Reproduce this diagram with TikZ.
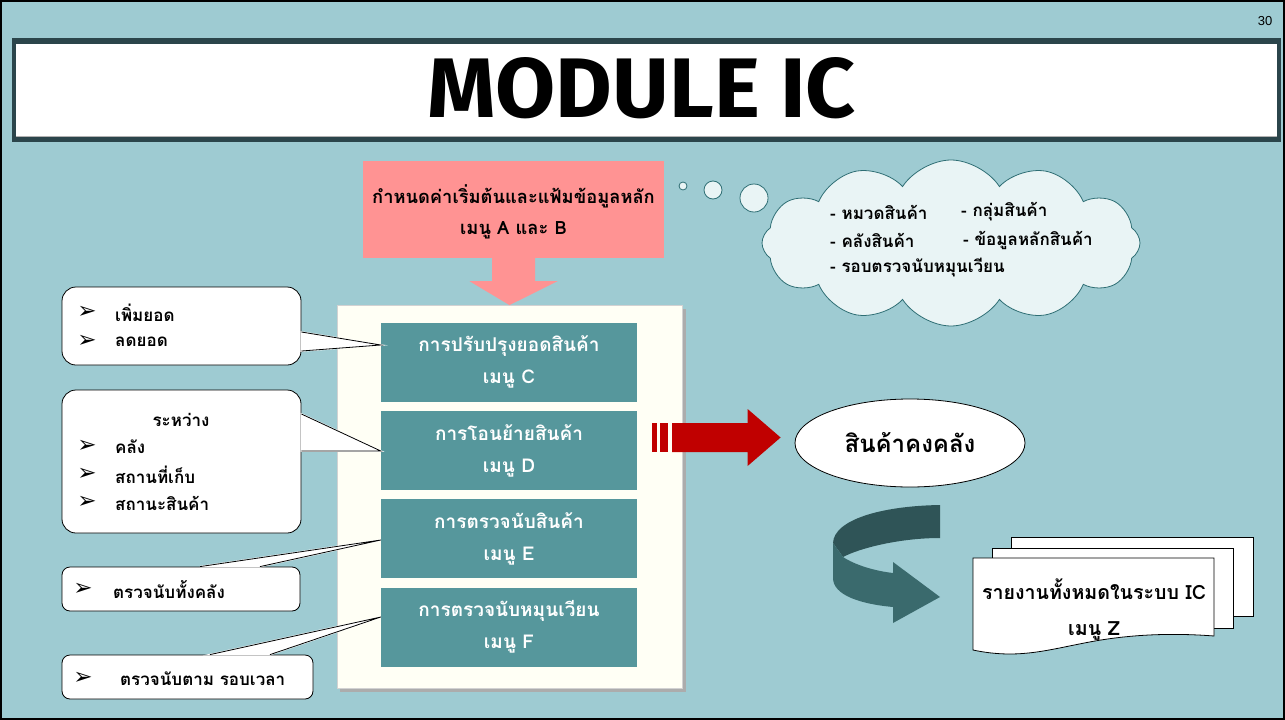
\documentclass[tikz,border=0pt]{standalone}
\usepackage{fontspec}
\usepackage{graphicx}
\usetikzlibrary{shapes.geometric,shapes.symbols,calc}
\newfontfamily\thai[Script=Thai]{Loma}
\newfontfamily\dejavu{DejaVu Sans}
\newfontfamily\titlef{Fira Sans}
\newfontfamily\arial{Liberation Sans}
\definecolor{bgc}{HTML}{9ECBD2}
\definecolor{tealbox}{HTML}{56979C}
\definecolor{pinkc}{HTML}{FF9393}
\definecolor{creamc}{HTML}{FFFFF5}
\definecolor{cloudfill}{HTML}{E9F4F5}
\definecolor{cloudline}{HTML}{2E6E74}
\definecolor{redc}{HTML}{C00000}
\definecolor{framec}{HTML}{2B454B}
\definecolor{arrdark}{HTML}{2F5457}
\definecolor{arrlight}{HTML}{3A6A6D}
\tikzset{
  menubox/.style={fill=tealbox, minimum width=256, minimum height=79, inner sep=0,
    text=white, align=center, font=\thai\bfseries\fontsize{19}{32}\selectfont},
  callbox/.style={draw=black, line width=0.8, fill=white, rounded corners=14, inner sep=0},
  callboxs/.style={draw=black, line width=0.8, fill=white, rounded corners=8, inner sep=0},
  calltxt/.style={anchor=west, inner sep=0, font=\thai\bfseries\fontsize{17}{20}\selectfont},
  bullet/.style={inner sep=0, font=\dejavu\bfseries\fontsize{23}{24}\selectfont},
  cloudtxt/.style={anchor=west, inner sep=0, font=\thai\bfseries\fontsize{17}{20}\selectfont},
  tailfill/.style={fill=white, draw=white, line width=1.6},
  tailline/.style={draw=black, line width=0.8},
}
\begin{document}
\begin{tikzpicture}[x=1pt,y=-1pt]
\useasboundingbox (0,0) rectangle (1285,720);
\fill[bgc] (0,0) rectangle (1285,720);
\draw[line width=2] (1,1) rectangle (1284,719);
% page number
\node[inner sep=0, font=\arial\fontsize{13}{15}\selectfont] (pnum) at (1265,21) {30};
% title
\fill[framec] (12,38) rectangle (1281,142);
\fill[white] (16,44) rectangle (1277,136);
\draw[gray!60, line width=0.6] (16,136) -- (1277,136);
\node[inner sep=0] (title) at (642,88) {\resizebox{428pt}{60pt}{\titlef\bfseries MODULE IC}};
% pink box and arrow
\node[fill=pinkc, minimum width=301, minimum height=97, inner sep=0] (pink) at (513.5,209.5) {};
\node[inner sep=0, align=center, font=\thai\bfseries\fontsize{18.3}{31}\selectfont] (pinktxt) at (513.5,212) {กำหนดค่าเริ่มต้นและแฟ้มข้อมูลหลัก\\เมนู A และ B};
% center panel
\fill[gray!65] (340,309) rectangle (686,692);
\node[fill=creamc, draw=gray!35, line width=0.8, minimum width=345, minimum height=383, inner sep=0] (panel) at (509.5,497) {};
\fill[pinkc] ($(pink.south)+(-21.5,-0.5)$) -- ++(0,23.5) -- ++(-22.5,0) -- (panel.north) -- ($(pink.south)+(44,23)$) -- ++(-22.5,0) -- ++(0,-23.5) -- cycle;
% menu boxes
\node[menubox] (m1) at (509,362) {การปรับปรุงยอดสินค้า\\เมนู C};
\node[menubox] (m2) at (509,450.5) {การโอนย้ายสินค้า\\เมนู D};
\node[menubox] (m3) at (509,538.5) {การตรวจนับสินค้า\\เมนู E};
\node[menubox] (m4) at (509,627) {การตรวจนับหมุนเวียน\\เมนู F};
% callouts
\node[callbox, minimum width=239, minimum height=78] (c1) at (181.5,326) {};
\node[callbox, minimum width=239, minimum height=143] (c2) at (181.5,461.5) {};
\node[callboxs, minimum width=238, minimum height=44] (c3) at (181,589) {};
\node[callboxs, minimum width=251, minimum height=44] (c4) at (187.5,677) {};
% tails
\coordinate (t1a) at ($(c1.east)+(0,6)$);
\coordinate (t1b) at ($(c1.east)+(0,25)$);
\coordinate (t1c) at ($(m1.west)+(0,-17)$);
\fill[tailfill] (t1a) -- (t1c) -- (t1b) -- cycle;
\draw[tailline] (t1a) -- (t1c) -- (t1b);
\coordinate (t2a) at ($(c2.east)+(0,-47.5)$);
\coordinate (t2b) at ($(c2.east)+(0,-10.5)$);
\coordinate (t2c) at ($(m2.west)+(0,0.5)$);
\fill[tailfill] (t2a) -- (t2c) -- (t2b) -- cycle;
\draw[tailline] (t2a) -- (t2c) -- (t2b);
\coordinate (t3a) at ($(c3.north)+(19,0)$);
\coordinate (t3b) at ($(c3.north)+(79,0)$);
\coordinate (t3c) at ($(m3.west)+(0,1.5)$);
\fill[tailfill] (t3a) -- (t3c) -- (t3b) -- cycle;
\draw[tailline] (t3a) -- (t3c) -- (t3b);
\coordinate (t4a) at ($(c4.north)+(22.5,0)$);
\coordinate (t4b) at ($(c4.north)+(82.5,0)$);
\coordinate (t4c) at ($(m4.west)+(0,-10)$);
\fill[tailfill] (t4a) -- (t4c) -- (t4b) -- cycle;
\draw[tailline] (t4a) -- (t4c) -- (t4b);
% callout texts
\node[bullet] (b11) at (87,312) {➢};
\node[calltxt] (x11) at (115,313) {เพิ่มยอด};
\node[bullet] (b12) at (87,341) {➢};
\node[calltxt] (x12) at (115,342) {ลดยอด};
\node[inner sep=0, font=\thai\bfseries\fontsize{17}{20}\selectfont] (x20) at (181,420) {ระหว่าง};
\node[bullet] (b21) at (87,446) {➢};
\node[calltxt] (x21) at (115,447) {คลัง};
\node[bullet] (b22) at (87,474) {➢};
\node[calltxt] (x22) at (115,475) {สถานที่เก็บ};
\node[bullet] (b23) at (87,502) {➢};
\node[calltxt] (x23) at (115,503) {สถานะสินค้า};
\node[bullet] (b31) at (83,589) {➢};
\node[calltxt] (x31) at (113,590) {ตรวจนับทั้งคลัง};
\node[bullet] (b41) at (83,678) {➢};
\node[calltxt] (x41) at (120,679) {ตรวจนับตาม รอบเวลา};
% cloud
\node[cloud, cloud puffs=12, cloud puff arc=115, aspect=2.35, minimum width=378, minimum height=166, inner sep=0,
  fill=cloudfill, draw=cloudline, line width=0.8] (cloud) at (951,243) {};
\node[circle, fill=cloudfill, draw=cloudline, line width=0.8, minimum size=8, inner sep=0] (bub1) at (683,186) {};
\node[circle, fill=cloudfill, draw=cloudline, line width=0.8, minimum size=18, inner sep=0] (bub2) at (713,190) {};
\node[circle, fill=cloudfill, draw=cloudline, line width=0.8, minimum size=28, inner sep=0] (bub3) at (754,198) {};
\node[cloudtxt] (k1) at (830,212) {- หมวดสินค้า};
\node[cloudtxt] (k2) at (961,212) {- กลุ่มสินค้า};
\node[cloudtxt] (k3) at (830,240) {- คลังสินค้า};
\node[cloudtxt] (k4) at (963,240) {- ข้อมูลหลักสินค้า};
\node[cloudtxt] (k5) at (830,268) {- รอบตรวจนับหมุนเวียน};
% stock ellipse
\node[ellipse, draw=black, line width=0.8, fill=white, minimum width=230, minimum height=88, inner sep=0,
  font=\thai\bfseries\fontsize{24}{28}\selectfont] (stock) at (910,443) {สินค้าคงคลัง};
% red arrow
\coordinate (ra) at (652,437.5);
\coordinate (rt) at ($(stock.west)+(-14,-5.5)$);
\fill[redc] ($(ra)+(0,-14.5)$) rectangle ($(ra)+(5,14.5)$);
\fill[redc] ($(ra)+(8,-14.5)$) rectangle ($(ra)+(16,14.5)$);
\fill[redc] ($(ra)+(20,-14.5)$) -- ($(rt)+(-33,-14.5)$) -- ($(rt)+(-33,-28.5)$) -- (rt) -- ($(rt)+(-33,28.5)$) -- ($(rt)+(-33,14.5)$) -- ($(ra)+(20,14.5)$) -- cycle;
% curved arrow
\fill[arrdark] (940,505) .. controls (880,506) and (834,520) .. (833,543) -- (843,557) .. controls (860,548) and (900,538) .. (940,538) -- cycle;
\fill[arrlight] (833,543) -- (843,557) .. controls (855,565) and (875,571) .. (893,573) -- (893,562) -- (940,597) -- (893,623) -- (893,607) .. controls (860,604) and (833,595) .. (833,578) -- cycle;
% report stack
\draw[line width=0.8, fill=white] (1011,537) rectangle (1253,616);
\draw[line width=0.8, fill=white] (992,548) rectangle (1233,628);
\draw[line width=0.8, fill=white] (973,558) -- (1214,558) -- (1214,636) .. controls (1175,633) and (1135,634) .. (1095,641) .. controls (1050,649) and (1020,660) .. (973,650) -- cycle;
\node[inner sep=0, align=center, font=\thai\bfseries\fontsize{19.6}{36}\selectfont] (report) at (1094,610) {รายงานทั้งหมดในระบบ IC\\เมนู Z};
\end{tikzpicture}
\end{document}
